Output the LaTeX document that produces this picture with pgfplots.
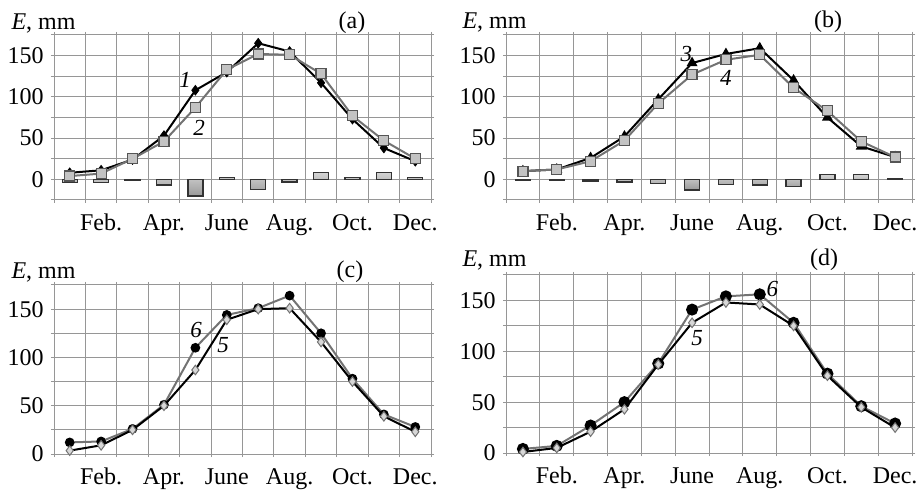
\documentclass[border=0pt]{standalone}
\usepackage{fontspec}
\setmainfont{Liberation Serif}
\usepackage{pgfplots}
\pgfplotsset{compat=1.18}

\definecolor{gridc}{RGB}{150,150,150}
\definecolor{sergray}{RGB}{115,115,115}
\definecolor{sqfill}{RGB}{195,195,195}
\definecolor{sqdraw}{RGB}{85,85,85}
\definecolor{dmfill}{RGB}{215,215,215}

\tikzset{clab/.style={font=\fontsize{11.5}{13}\selectfont\itshape, inner sep=0pt}}

\pgfplotsset{
  panel/.style={
    scale only axis,
    xmin=0.5, xmax=12.5,
    xtick={2,4,6,8,10,12},
    xticklabels={Feb.,Apr.,June,Aug.,Oct.,Dec.},
    minor xtick={0.5,1.5,...,12.5},
    xminorgrids,
    ytick={0,50,100,150},
    ymajorgrids, yminorgrids,
    ymax=175,
    tick align=outside,
    major tick length=1.5pt,
    minor tick length=1.5pt,
    every major x tick/.style={draw=none},
    grid style={gridc, line width=0.5pt},
    minor grid style={gridc, line width=0.5pt},
    axis line style={gridc, line width=0.5pt},
    tick style={gridc, line width=0.5pt},
    tick label style={font=\fontsize{12}{14}\selectfont},
    xticklabel style={yshift=-0.5pt, text height=1.6ex, text depth=0.3ex},
    yticklabel style={xshift=0.5pt},
    /pgf/number format/assume math mode=true,
    clip mode=individual,
  },
  sblack/.style={black, line width=1pt, mark=diamond*, mark size=2.4pt, mark options={fill=black, draw=black, line width=0.4pt}},
  ssquare/.style={sergray, line width=1pt, mark=square*, mark size=2.5pt, mark options={fill=sqfill, draw=sqdraw, line width=0.6pt}},
  stri/.style={black, line width=1pt, mark=triangle*, mark size=2.2pt, mark options={fill=black, draw=black}},
  sfive/.style={black, line width=1pt, mark=diamond*, mark size=2.4pt, mark options={fill=dmfill, draw=sergray, line width=0.5pt}},
  ssix/.style={sergray, line width=1pt, mark=*, mark options={fill=black, draw=black}},
  bars/.style={ybar, bar width=7.5pt, draw=black!80, line width=0.7pt, top color=gray!35, bottom color=gray!80},
}

\begin{document}
\begin{tikzpicture}
\fontsize{12}{14}\selectfont
\path[use as bounding box] (0,0) rectangle (459.5pt,-245.5pt);

% (a)
\begin{axis}[panel, at={(27pt,-100pt)}, anchor=south west, width=188.5pt, height=82.5pt,
  ymin=-25, minor ytick={-25,25,75,125,175}]
\addplot[bars] coordinates {(1,-4)(2,-4)(3,-1)(4,-7)(5,-20)(6,2)(7,-12)(8,-3)(9,8)(10,2)(11,8)(12,2)};
\addplot[sblack] coordinates {(1,8)(2,11)(3,24)(4,53)(5,108)(6,130)(7,165)(8,155)(9,117)(10,73)(11,38)(12,22)};
\addplot[ssquare] coordinates {(1,4)(2,7)(3,25)(4,46)(5,87)(6,133)(7,152)(8,151)(9,128)(10,77)(11,47)(12,25)};
\node[clab] at (axis cs:4.67,121) {1};
\node[clab] at (axis cs:5.12,63) {2};
\end{axis}
\node at (21.75pt,-11.5pt) {\textit{E}, mm};
\node at (176pt,-11.5pt) {(a)};

% (b)
\begin{axis}[panel, at={(253pt,-100pt)}, anchor=south west, width=203pt, height=82.5pt,
  ymin=-25, minor ytick={-25,25,75,125,175}]
\addplot[bars] coordinates {(1,-1)(2,-1)(3,-2)(4,-3)(5,-5)(6,-13)(7,-6)(8,-7)(9,-9)(10,6)(11,6)(12,1)};
\addplot[stri] coordinates {(1,10)(2,12)(3,26)(4,52)(5,97)(6,141)(7,152)(8,159)(9,120)(10,75)(11,40)(12,27)};
\addplot[ssquare] coordinates {(1,10)(2,12)(3,22)(4,47)(5,92)(6,127)(7,145)(8,151)(9,111)(10,83)(11,46)(12,27)};
\node[clab] at (axis cs:5.83,152) {3};
\node[clab] at (axis cs:7.0,123) {4};
\end{axis}
\node at (247.25pt,-11pt) {\textit{E}, mm};
\node at (414pt,-11pt) {(b)};

% (c)
\begin{axis}[panel, at={(27pt,-227pt)}, anchor=south west, width=188.5pt, height=84.5pt,
  ymin=0, minor ytick={25,75,125,175}]
\addplot[ssix, mark size=1.9pt] coordinates {(1,12)(2,13)(3,26)(4,51)(5,110)(6,144)(7,151)(8,164)(9,125)(10,78)(11,41)(12,28)};
\addplot[sfive] coordinates {(1,3.5)(2,9)(3,25)(4,50)(5,87)(6,139)(7,150)(8,151)(9,116)(10,75)(11,39)(12,23)};
\node[clab] at (axis cs:5.02,128) {6};
\node[clab] at (axis cs:5.88,113) {5};
\end{axis}
\node at (21.75pt,-136pt) {\textit{E}, mm};
\node at (175pt,-136pt) {(c)};

% (d)
\begin{axis}[panel, at={(253pt,-226.5pt)}, anchor=south west, width=203pt, height=89pt,
  ymin=0, minor ytick={25,75,125,175}]
\addplot[ssix, mark size=2.5pt] coordinates {(1,4)(2,7)(3,27)(4,50)(5,88)(6,141)(7,154)(8,156)(9,128)(10,78)(11,46)(12,29)};
\addplot[sfive] coordinates {(1,1)(2,5)(3,21)(4,43)(5,87)(6,128)(7,148)(8,146)(9,125)(10,76)(11,45)(12,25)};
\node[clab] at (axis cs:8.37,161) {6};
\node[clab] at (axis cs:6.15,113) {5};
\end{axis}
\node at (247.25pt,-130pt) {\textit{E}, mm};
\node at (412pt,-130pt) {(d)};
\end{tikzpicture}
\end{document}
